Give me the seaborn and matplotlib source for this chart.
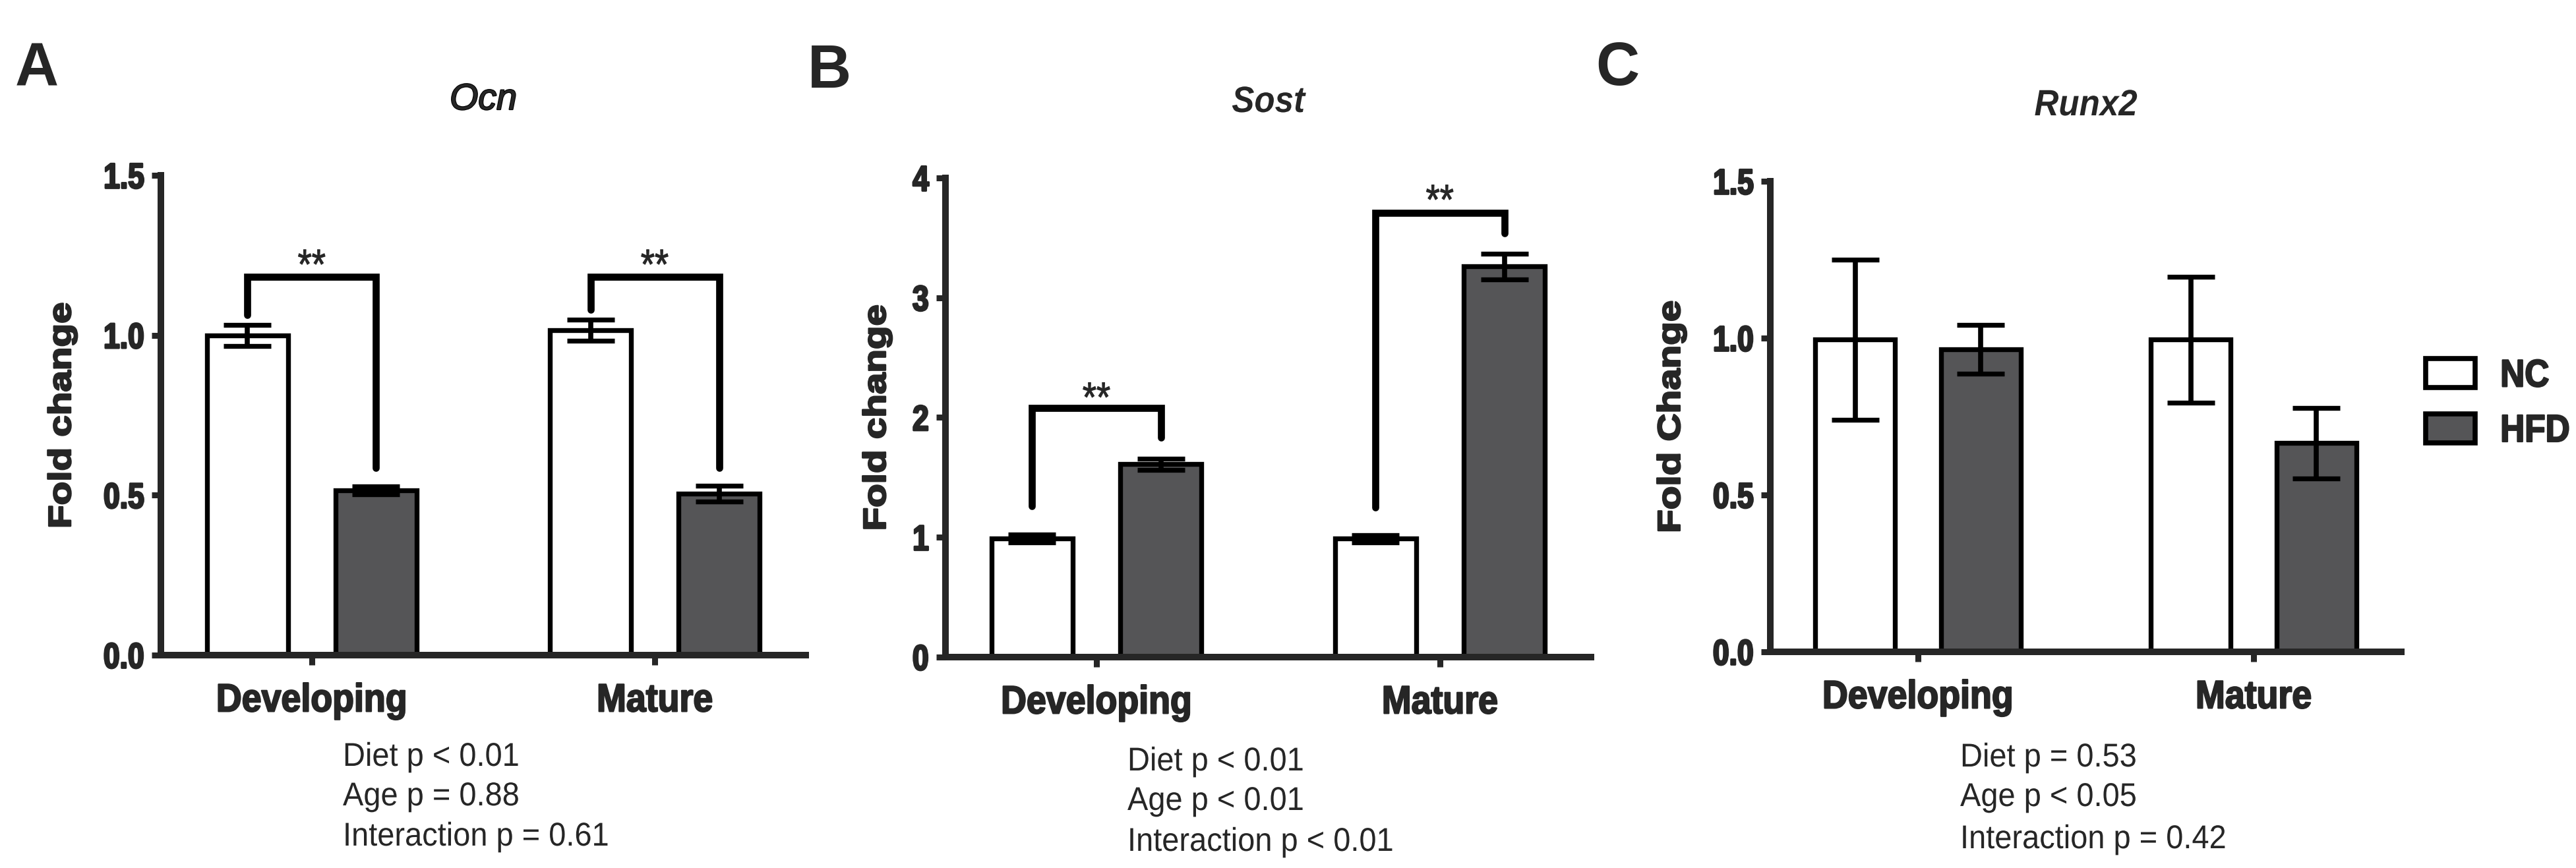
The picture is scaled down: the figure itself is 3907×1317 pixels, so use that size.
import matplotlib
matplotlib.use("Agg")
import matplotlib.pyplot as plt
from matplotlib.patches import Patch
from matplotlib.patheffects import AbstractPathEffect, withStroke
from matplotlib.transforms import Affine2D
import pandas as pd
import seaborn as sns

# ---- data ----
ages = ["Developing", "Mature"]
diets = ["NC", "HFD"]
genes = ["Ocn", "Sost", "Runx2"]
panel_letters = ["A", "B", "C"]
ylabels = ["Fold change", "Fold change", "Fold Change"]

# means / SEM, one value per age (Developing, Mature)
ocn_nc, ocn_nc_sem = [1.00, 1.015], [0.033, 0.033]
ocn_hfd, ocn_hfd_sem = [0.515, 0.505], [0.012, 0.025]
sost_nc, sost_nc_sem = [0.99, 0.99], [0.035, 0.03]
sost_hfd, sost_hfd_sem = [1.61, 3.26], [0.045, 0.11]
runx2_nc, runx2_nc_sem = [0.995, 0.995], [0.255, 0.20]
runx2_hfd, runx2_hfd_sem = [0.965, 0.665], [0.078, 0.113]

y_max = [1.5, 4, 1.5]
y_ticks = [[0, 0.5, 1.0, 1.5], [0, 1, 2, 3, 4], [0, 0.5, 1.0, 1.5]]
y_ticklabels = [["0.0", "0.5", "1.0", "1.5"], ["0", "1", "2", "3", "4"],
                ["0.0", "0.5", "1.0", "1.5"]]

# significance brackets: (age index, bracket top, NC leg end, HFD leg end, star baseline)
ocn_brackets = [(0, 1.183, 1.064, 0.586, 1.177), (1, 1.183, 1.08, 0.586, 1.177)]
sost_brackets = [(0, 2.08, 1.26, 1.83, 2.05), (1, 3.71, 1.25, 3.54, 3.70)]
runx2_brackets = []
star_text = "**"

stats_ocn = ["Diet p < 0.01", "Age p = 0.88", "Interaction p = 0.61"]
stats_sost = ["Diet p < 0.01", "Age p < 0.01", "Interaction p < 0.01"]
stats_runx2 = ["Diet p = 0.53", "Age p < 0.05", "Interaction p = 0.42"]

# ---- layout (pixels on a 3907 x 1317 canvas) ----
W, H = 3907, 1317
axes_px = [(244, 1222, 266, 994), (1434, 2413, 270, 997), (2685, 3642, 275, 989)]
ylabel_x = [-0.125, -0.078, -0.128]
letter_px = [(23, 129), (1225, 133), (2420, 129)]
stats_px = [(520, [1162, 1222, 1283]), (1710, [1169, 1229, 1291]), (2973, [1163, 1223, 1287])]

hfd_grey = "#555557"
palette = {"NC": "white", "HFD": hfd_grey}
font = ["Liberation Sans", "DejaVu Sans"]


class Squeeze(AbstractPathEffect):
    """Draw text condensed (and optionally heavier), like the narrow Arial of the source."""

    def __init__(self, sx=1.0, sy=1.0, anchor="center", stroke=0.0):
        super().__init__()
        self.sx, self.sy, self.anchor, self.stroke = sx, sy, anchor, stroke

    def draw_path(self, renderer, gc, tpath, affine, rgbFace=None):
        ext = tpath.get_extents()
        if self.anchor == "left":
            x0 = 0.0
        elif self.anchor == "right":
            x0 = ext.x1
        else:
            x0 = (ext.x0 + ext.x1) / 2
        y0 = (ext.y0 + ext.y1) / 2
        sq = Affine2D().translate(-x0, -y0).scale(self.sx, self.sy).translate(x0, y0)
        if self.stroke > 0:
            gc0 = renderer.new_gc()
            gc0.copy_properties(gc)
            gc0.set_linewidth(self.stroke)
            gc0.set_foreground(rgbFace)
            gc0.set_joinstyle("round")
            renderer.draw_path(gc0, tpath, sq + affine, rgbFace)
            gc0.restore()
        else:
            renderer.draw_path(gc, tpath, sq + affine, rgbFace)


sns.set_style("ticks")
plt.rcParams["font.family"] = font
plt.rcParams["font.weight"] = "bold"

fig = plt.figure(figsize=(W / 100, H / 100), dpi=100)

means = [(ocn_nc, ocn_hfd), (sost_nc, sost_hfd), (runx2_nc, runx2_hfd)]
sems = [(ocn_nc_sem, ocn_hfd_sem), (sost_nc_sem, sost_hfd_sem), (runx2_nc_sem, runx2_hfd_sem)]
brackets = [ocn_brackets, sost_brackets, runx2_brackets]
stats = [stats_ocn, stats_sost, stats_runx2]

for i in range(3):
    l, r, t, b = axes_px[i]
    ax = fig.add_axes([l / W, 1 - b / H, (r - l) / W, (b - t) / H])

    nc_vals, hfd_vals = means[i]
    df = pd.DataFrame({
        "Age": ages * 2,
        "Diet": ["NC"] * 2 + ["HFD"] * 2,
        "Fold": list(nc_vals) + list(hfd_vals),
    })
    sns.barplot(data=df, x="Age", y="Fold", hue="Diet", order=ages, hue_order=diets,
                palette=palette, width=0.75, gap=0.37, errorbar=None,
                edgecolor="black", linewidth=5.3, legend=False, ax=ax)

    bar_containers = list(ax.containers)
    centers = []
    for k, cont in enumerate(bar_containers):
        xs = [p.get_x() + p.get_width() / 2 for p in cont]
        centers.append(xs)
        ax.errorbar(xs, means[i][k], yerr=sems[i][k], fmt="none", ecolor="black",
                    elinewidth=5.5, capsize=26, capthick=5.3, zorder=4)

    for (a, top, y_nc, y_hfd, y_star) in brackets[i]:
        x1, x2 = centers[0][a], centers[1][a]
        ax.plot([x1, x1, x2, x2], [y_nc, top, top, y_hfd], color="black", lw=7.7,
                solid_capstyle="round", solid_joinstyle="miter", zorder=5, clip_on=False)
        ax.text((x1 + x2) / 2, y_star, star_text, ha="center", va="baseline",
                fontsize=46, fontweight="normal", path_effects=[Squeeze(sx=0.85, stroke=0.8)])

    ax.set_xlim(-0.44, 1.44)
    ax.set_ylim(0, y_max[i])
    ax.set_yticks(y_ticks[i])
    ax.set_yticklabels(y_ticklabels[i], fontsize=39, fontweight="bold",
                       path_effects=[Squeeze(sx=0.82, anchor="right", stroke=2.0)])
    ax.set_xticks([0, 1])
    ax.set_xticklabels(ages, fontsize=43, fontweight="bold",
                       path_effects=[Squeeze(sx=0.9, stroke=1.6)])
    ax.set_xlabel("")
    ax.set_ylabel(ylabels[i], fontsize=42, fontweight="bold",
                  path_effects=[Squeeze(sy=0.82, stroke=1.8)])
    ax.yaxis.set_label_coords(ylabel_x[i], 0.5)
    if i == 0:
        ax.set_title(genes[i], fontsize=40, style="italic", fontweight="normal", pad=72,
                     path_effects=[withStroke(linewidth=1.6, foreground="black")])
    else:
        ax.set_title(genes[i], fontsize=40, style="italic", fontweight="bold", pad=72,
                     path_effects=[Squeeze(sx=0.92)])

    sns.despine(ax=ax)
    for side in ["left", "bottom"]:
        ax.spines[side].set_linewidth(7.2)
        ax.spines[side].set_capstyle("projecting")
    ax.tick_params(axis="y", length=10, width=6.5, pad=8, direction="out")
    ax.tick_params(axis="x", length=10.5, width=6.5, pad=20, direction="out")

    lx, ly = letter_px[i]
    fig.text(lx / W, 1 - ly / H, panel_letters[i], fontsize=66, fontweight="bold",
             va="baseline")

    sx, sys_ = stats_px[i]
    for line, yb in zip(stats[i], sys_):
        fig.text(sx / W, 1 - yb / H, line, fontsize=36, fontweight="normal",
                 va="baseline", path_effects=[Squeeze(sx=0.94, anchor="left")])

handles = [Patch(facecolor=palette[d], edgecolor="black", linewidth=5.5) for d in diets]
leg = fig.legend(handles, diets, loc="center left", bbox_to_anchor=(3679 / W, 1 - 613 / H),
                 frameon=False, prop={"weight": "bold", "size": 42},
                 handlelength=1.29, handleheight=0.79, handletextpad=0.65,
                 labelspacing=0.5, borderpad=0, borderaxespad=0)
for txt in leg.get_texts():
    txt.set_path_effects([Squeeze(sx=0.88, anchor="left", stroke=1.6)])

fig.savefig("out.png", dpi=100)
